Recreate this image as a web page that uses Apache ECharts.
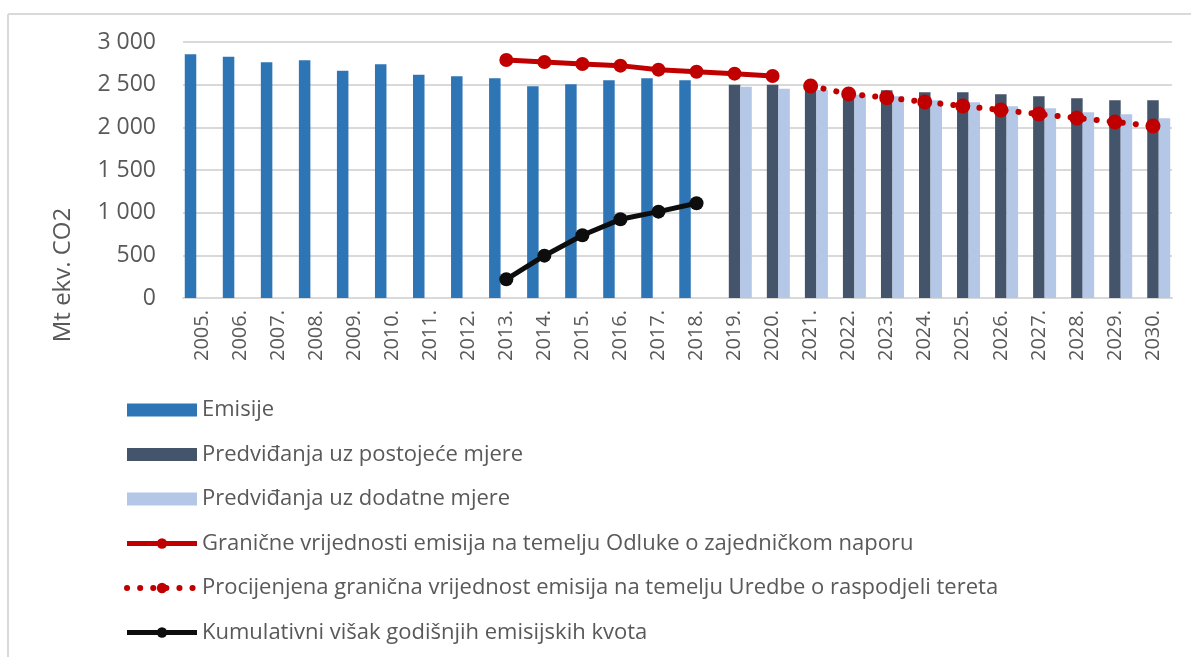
<!DOCTYPE html>
<html>
<head>
	<meta charset="UTF-8">
	<title></title>
	<script type="text/javascript" src="https://cdn.jsdelivr.net/npm/echarts@6/dist/echarts.min.js"></script>
	<style type="text/css">
		html,body{margin:0; padding:0; height:100%; background:#fff;}
		#chart1{width:1191px; height:657px;}
	</style>
</head>
<body>
	<div id="chart1"></div>
	<script type="text/javascript">
		// kategorije (godine)
		var years = ['2005.','2006.','2007.','2008.','2009.','2010.','2011.','2012.','2013.','2014.','2015.','2016.','2017.','2018.',
			'2019.','2020.','2021.','2022.','2023.','2024.','2025.','2026.','2027.','2028.','2029.','2030.'];
		var emisije = [2856,2828,2762,2785,2664,2738,2617,2598,2575,2481,2504,2551,2575,2551,
			null,null,null,null,null,null,null,null,null,null,null,null];
		var postojece = [null,null,null,null,null,null,null,null,null,null,null,null,null,null,
			2500,2500,2460,2440,2434,2410,2410,2387,2364,2340,2317,2317];
		var dodatne = [null,null,null,null,null,null,null,null,null,null,null,null,null,null,
			2477,2453,2438,2383,2364,2317,2293,2246,2223,2176,2153,2106];
		var granicne = [null,null,null,null,null,null,null,null,2789,2766,2742,2723,2676,2652,2629,2602,
			null,null,null,null,null,null,null,null,null,null];
		var procijenjena = [null,null,null,null,null,null,null,null,null,null,null,null,null,null,null,null,
			2485,2391,2348,2297,2250,2203,2156,2110,2063,2016];
		var kumulativni = [null,null,null,null,null,null,null,null,219,496,735,922,1012,1110,
			null,null,null,null,null,null,null,null,null,null,null,null];

		var txt = '#595959';
		var font = '"Open Sans", sans-serif';
		var red = '#C00000', black = '#0D0D0D';

		var myChart = echarts.init(document.getElementById('chart1'));
		var option = {
			backgroundColor: '#fff',
			animation: false,
			grid: {left: 183, right: 19, top: 42, bottom: 359},
			legend: {
				orient: 'vertical',
				left: 124,
				top: 399,
				padding: 0,
				itemWidth: 70,
				itemHeight: 13,
				itemGap: 22.5,
				textStyle: {color: txt, fontSize: 22, fontFamily: font},
				data: [
					{name: 'Emisije', icon: 'rect'},
					{name: 'Predviđanja uz postojeće mjere', icon: 'rect'},
					{name: 'Predviđanja uz dodatne mjere', icon: 'rect'},
					{name: 'Granične vrijednosti emisija na temelju Odluke o zajedničkom naporu',
						lineStyle: {width: 5, color: red}},
					{name: 'Procijenjena granična vrijednost emisija na temelju Uredbe o raspodjeli tereta',
						lineStyle: {width: 6, color: red, type: [0.1, 13], cap: 'round'}},
					{name: 'Kumulativni višak godišnjih emisijskih kvota',
						lineStyle: {width: 5, color: black}}
				]
			},
			graphic: [
				{type: 'line', shape: {x1: 8, y1: 14, x2: 1191, y2: 14}, style: {stroke: '#d9d9d9', lineWidth: 2}},
				{type: 'line', shape: {x1: 8, y1: 14, x2: 8, y2: 657}, style: {stroke: '#d9d9d9', lineWidth: 2}},
				{type: 'text', x: 63, y: 275, rotation: Math.PI / 2,
					style: {text: 'Mt ekv. CO2', fill: txt, font: '24px "Open Sans", sans-serif', textAlign: 'center', textVerticalAlign: 'middle'}}
			],
			xAxis: {
				type: 'category',
				data: years,
				axisLine: {lineStyle: {color: '#d9d9d9', width: 2}},
				axisTick: {show: false},
				axisLabel: {rotate: 90, margin: 12, color: txt, fontSize: 20, fontFamily: font, interval: 0}
			},
			yAxis: {
				type: 'value',
				min: 0, max: 3000, interval: 500,
				axisLine: {show: false},
				axisTick: {show: false},
				splitLine: {lineStyle: {color: '#d9d9d9', width: 2}},
				axisLabel: {
					margin: 27, color: txt, fontSize: 23, fontFamily: font,
					formatter: function(v){ return String(v).replace(/\B(?=(\d{3})+(?!\d))/g, ' '); }
				}
			},
			series: [
				{name: 'Emisije', type: 'bar', data: emisije, barWidth: 11.5, barGap: '0%',
					itemStyle: {color: '#2E75B6'}},
				{name: 'Predviđanja uz postojeće mjere', type: 'bar', data: postojece, barWidth: 11.5, barGap: '0%',
					itemStyle: {color: '#44546A'}},
				{name: 'Predviđanja uz dodatne mjere', type: 'bar', data: dodatne, barWidth: 11.5, barGap: '0%',
					itemStyle: {color: '#B4C7E7'}},
				{name: 'Granične vrijednosti emisija na temelju Odluke o zajedničkom naporu', type: 'line', data: granicne,
					symbol: 'circle', symbolSize: 14, itemStyle: {color: red},
					lineStyle: {color: red, width: 5}},
				{name: 'Procijenjena granična vrijednost emisija na temelju Uredbe o raspodjeli tereta', type: 'line', data: procijenjena,
					symbol: 'circle', symbolSize: 15, itemStyle: {color: red},
					lineStyle: {color: red, width: 6, type: [0.1, 13], cap: 'round'}},
				{name: 'Kumulativni višak godišnjih emisijskih kvota', type: 'line', data: kumulativni,
					symbol: 'circle', symbolSize: 14, itemStyle: {color: black},
					lineStyle: {color: black, width: 5}}
			]
		};
		myChart.setOption(option);
	</script>
</body>
</html>
